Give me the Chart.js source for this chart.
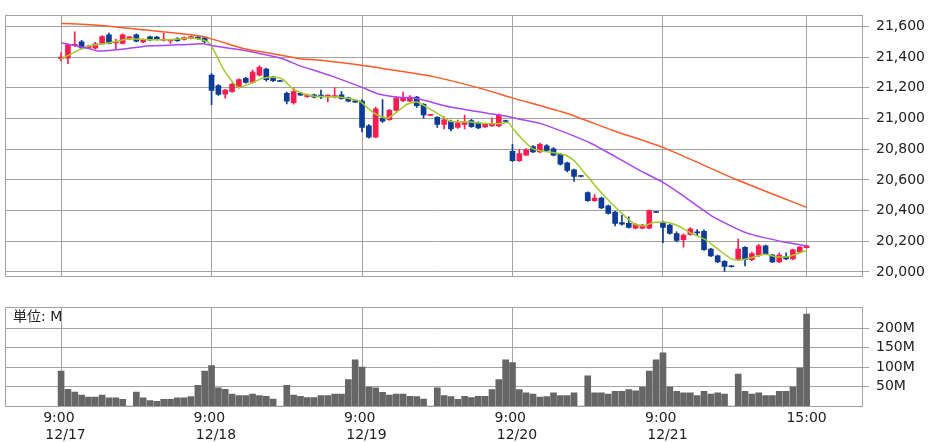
<!DOCTYPE html>
<html>
<head>
<meta charset="utf-8">
<script src="https://cdn.jsdelivr.net/npm/chart.js@4.4.0/dist/chart.umd.min.js"></script>
<style>
    body { margin: 0; background: #fff; }
    #wrap { position: relative; width: 942px; height: 442px; }
    #canvasPrice { position: absolute; left: 0; top: 0; }
    #canvasVolume { position: absolute; left: 0; top: 292px; }
    #unit { position: absolute; left: 13px; top: 305px; font: 14px "DejaVu Sans", "Noto Sans CJK JP", sans-serif; color: #222; }
</style>
</head>
<body>
<div id="wrap">
    <canvas id="canvasPrice" width="942" height="292"></canvas>
    <canvas id="canvasVolume" width="942" height="150"></canvas>
    <div id="unit">単位: M</div>
</div>
<script>
// 15 minute bars, 22 slots per day (slot 10 = lunch break, slot 21 = 15:00 close)
var openP = [
    21390,21394,21474,21500,21462,21458,21490,21546,21492,21490,21518,21546,21500,21532,21530,21510,21505,21520,21516,21524,21530,21526,
    21283,21215,21159,21175,21203,21262,21236,21283,21322,21270,21247,21165,21103,21165,21142,21155,21152,21140,21140,21155,21135,21115,
    21113,20952,20878,21003,20993,21053,21117,21113,21139,21093,21020,21008,20962,20982,20942,20962,20987,20972,20946,20952,20952,20987,
    20786,20726,20762,20818,20782,20822,20802,20766,20712,20666,20628,20517,20465,20481,20431,20391,20322,20317,20285,20285,20285,20394,
    20321,20305,20251,20210,20245,20262,20265,20150,20105,20070,20040,20080,20160,20080,20110,20170,20110,20065,20100,20085,20130,20158
];
var highP = [
    21430,21486,21565,21510,21478,21496,21540,21556,21516,21552,21536,21552,21520,21538,21536,21556,21518,21528,21532,21538,21534,21530,
    21293,21222,21190,21230,21258,21268,21315,21345,21328,21275,21249,21172,21200,21170,21160,21160,21185,21155,21200,21175,21140,21117,
    21123,20960,21075,21123,21060,21140,21173,21150,21145,21098,21028,21013,21013,20990,20990,21023,20995,20978,20970,21003,21030,20990,
    20832,20800,20804,20824,20840,20830,20810,20772,20716,20670,20630,20522,20505,20486,20436,20395,20371,20360,20316,20310,20405,20396,
    20331,20310,20262,20248,20290,20276,20275,20155,20110,20074,20042,20215,20165,20130,20180,20175,20115,20125,20125,20150,20166,20174
];
var lowP = [
    21375,21358,21468,21455,21456,21452,21484,21486,21452,21486,21514,21500,21495,21508,21510,21504,21490,21502,21510,21518,21516,21495,
    21090,21150,21133,21170,21198,21230,21230,21278,21243,21240,21241,21095,21093,21150,21138,21135,21130,21110,21135,21126,21108,21105,
    20912,20872,20875,20975,20988,21048,21110,21108,21073,21003,21018,20942,20932,20920,20935,20932,20942,20934,20942,20948,20945,20979,
    20720,20720,20758,20778,20778,20788,20756,20696,20652,20590,20620,20460,20460,20412,20376,20301,20305,20286,20281,20281,20281,20386,
    20191,20246,20196,20162,20240,20236,20140,20100,20060,20004,20032,20075,20040,20074,20100,20115,20060,20060,20080,20080,20126,20155
];
var closeP = [
    21400,21480,21484,21460,21472,21486,21534,21490,21502,21546,21532,21504,21514,21512,21514,21518,21515,21508,21528,21534,21520,21502,
    21183,21157,21185,21223,21253,21236,21303,21333,21253,21246,21241,21113,21175,21153,21154,21139,21140,21152,21150,21130,21113,21107,
    20942,20878,21063,20983,21053,21133,21133,21139,21083,21023,21027,20962,20992,20932,20972,20974,20947,20938,20966,20968,21023,20981,
    20726,20772,20798,20782,20832,20792,20762,20702,20662,20622,20622,20465,20481,20417,20381,20317,20311,20291,20311,20305,20401,20388,
    20291,20251,20205,20241,20281,20254,20145,20105,20065,20036,20034,20150,20080,20120,20170,20120,20065,20110,20085,20145,20162,20170
];
// volume in millions
var volume = [
    90,43,36,28,23,23,28,21,21,17,0,36,21,14,12,17,17,21,21,24,53,90,
    104,47,43,31,27,27,31,27,25,18,0,53,28,25,22,22,27,27,31,31,68,119,
    100,49,47,35,28,31,31,25,24,18,0,47,27,24,17,25,22,25,25,42,68,119,
    112,42,34,31,23,24,34,27,27,34,0,78,34,34,31,38,38,42,39,49,90,119,
    137,49,38,34,34,27,38,31,34,31,0,82,38,31,34,27,27,38,38,49,98,237
];

// moving averages (slot position, value)
var maShortSlot = [0,2,4.2,6.4,8.2,10,13,16,18.9,21,21.8,22.8,23.7,25,25.9,27.6,29.5,31.6,32.5,33.9,35.4,36.8,40.8,43.7,44.7,46.2,47.7,49.1,50.6,52,53.5,55.4,56.9,59.4,62.3,64.2,65.4,66.1,67.5,69,70.5,71.9,73.7,75.1,76.6,78.5,80.6,82.5,83.9,85.4,86.4,88.3,90.2,92.2,94.2,96,98.1,99.6,101.5,102.9,104.4,106.3,107.7,109];
var maShort = [21388,21433,21474,21488,21504,21520,21514,21514,21524,21508,21484,21404,21324,21243,21203,21227,21263,21267,21253,21193,21163,21147,21139,21113,21073,21024,21003,21042,21093,21107,21073,21024,20982,20979,20967,20967,20973,20932,20862,20802,20786,20778,20762,20722,20642,20541,20441,20361,20311,20301,20321,20325,20301,20251,20211,20150,20084,20080,20100,20116,20100,20100,20120,20140];
var maMidSlot = [0,4.2,5.3,8.2,13,17.4,20.8,22.2,26.2,30.1,32.5,34.9,36.4,39.8,44,46.4,49,52,56.9,62.3,65.2,67.1,70.5,77.3,84.6,88,90.5,95.3,100.3,105.1,109];
var maMid = [21494,21454,21440,21448,21474,21480,21488,21474,21448,21414,21388,21343,21323,21273,21203,21160,21140,21130,21075,21035,21015,20995,20962,20842,20662,20584,20511,20361,20253,20201,20170];
var maLongSlot = [0,3,7,12,17,20.5,23,26.6,31,34.9,38,44.7,49,54.4,60.8,66.1,74,80.7,88,98.8,109];
var maLong = [21620,21614,21602,21578,21556,21536,21506,21456,21422,21390,21380,21343,21313,21273,21203,21133,21033,20922,20812,20601,20421];

var tickSlots = [0, 22, 44, 66, 88, 109];
var tickTimes = ["9:00", "9:00", "9:00", "9:00", "9:00", "15:00"];
var tickDates = ["12/17", "12/18", "12/19", "12/20", "12/21", ""];
var priceTicks = [20000, 20200, 20400, 20600, 20800, 21000, 21200, 21400, 21600];
var volumeTicks = [50, 100, 150, 200];

var GRID = "#a3a3a3";
var UP = "#fa1e50";
var DOWN = "#0d3b96";
var X_MIN = -8.2, X_MAX = 117.1;

Chart.defaults.font.family = "'DejaVu Sans', sans-serif";
Chart.defaults.font.size = 14;
Chart.defaults.color = "#222";

// outline of the plot area
var boxPlugin = {
    id: "box",
    afterDraw: function (chart)
    {
        var a = chart.chartArea, ctx = chart.ctx;
        ctx.save();
        ctx.strokeStyle = GRID;
        ctx.lineWidth = 1;
        ctx.strokeRect(Math.round(a.left) + 0.5, Math.round(a.top) + 0.5,
                Math.round(a.right - a.left), Math.round(a.bottom - a.top));
        ctx.restore();
    }
};

function setTicks(values)
{
    return function (scale)
    {
        scale.ticks = values.map(function (v) { return { value: v }; });
    };
}

function points(xs, ys)
{
    var out = [];
    for (var i = 0; i < xs.length; ++i)
        out.push({ x: xs[i], y: ys[i] });
    return out;
}

function lineSet(xs, ys, color)
{
    return {
        type: "line",
        data: points(xs, ys),
        borderColor: color,
        borderWidth: 1.5,
        pointRadius: 0,
        tension: 0.2,
        order: 0
    };
}

function main()
{
    var bodies = [], wicks = [], colors = [], vols = [];
    for (var i = 0; i < openP.length; ++i)
    {
        bodies.push({ x: i, y: [openP[i], closeP[i]] });
        wicks.push({ x: i, y: [lowP[i], highP[i]] });
        colors.push(closeP[i] >= openP[i] ? UP : DOWN);
        vols.push({ x: i, y: volume[i] });
    }

    new Chart(document.getElementById("canvasPrice").getContext("2d"), {
        type: "bar",
        data: {
            datasets: [
                { data: wicks, backgroundColor: colors, barThickness: 1, grouped: false, order: 2 },
                { data: bodies, backgroundColor: colors, barThickness: 5, grouped: false, order: 1 },
                lineSet(maLongSlot, maLong, "#ff5a2a"),
                lineSet(maMidSlot, maMid, "#aa46f5"),
                lineSet(maShortSlot, maShort, "#a2cc26")
            ]
        },
        options: {
            responsive: false,
            animation: false,
            events: [],
            layout: { padding: { left: 5, top: 2, right: 0, bottom: 7 } },
            plugins: { legend: { display: false }, tooltip: { enabled: false } },
            scales: {
                x: {
                    type: "linear", min: X_MIN, max: X_MAX, offset: false,
                    afterBuildTicks: setTicks(tickSlots),
                    afterFit: function (s) { s.height = 0; },
                    ticks: { display: false },
                    grid: { color: GRID, drawTicks: false, offset: false },
                    border: { display: false }
                },
                y: {
                    position: "right", min: 19970, max: 21672,
                    afterBuildTicks: setTicks(priceTicks),
                    afterFit: function (s) { s.width = 80; },
                    ticks: {
                        padding: 7,
                        callback: function (v) { return v.toLocaleString("en-US"); }
                    },
                    grid: { color: GRID, tickLength: 7 },
                    border: { color: GRID }
                }
            }
        },
        plugins: [boxPlugin]
    });

    new Chart(document.getElementById("canvasVolume").getContext("2d"), {
        type: "bar",
        data: {
            datasets: [{ data: vols, backgroundColor: "#666666", barThickness: 6, grouped: false }]
        },
        options: {
            responsive: false,
            animation: false,
            events: [],
            layout: { padding: { left: 5, top: 11, right: 0, bottom: 0 } },
            plugins: { legend: { display: false }, tooltip: { enabled: false } },
            scales: {
                x: {
                    type: "linear", min: X_MIN, max: X_MAX, offset: false,
                    afterBuildTicks: setTicks(tickSlots),
                    afterFit: function (s) { s.height = 36; },
                    ticks: {
                        padding: 4, maxRotation: 0, autoSkip: false,
                        callback: function (v)
                        {
                            var k = tickSlots.indexOf(v);
                            if (k < 0) return "";
                            if (!tickDates[k]) return tickTimes[k];
                            return [tickTimes[k] + " ", "  " + tickDates[k]];
                        }
                    },
                    grid: { color: GRID, drawTicks: false, offset: false },
                    border: { display: false }
                },
                y: {
                    position: "right", min: 0, max: 254,
                    afterBuildTicks: setTicks(volumeTicks),
                    afterFit: function (s) { s.width = 80; },
                    ticks: {
                        padding: 7,
                        callback: function (v) { return v + "M"; }
                    },
                    grid: { color: GRID, tickLength: 7 },
                    border: { color: GRID }
                }
            }
        },
        plugins: [boxPlugin]
    });
}

document.addEventListener("DOMContentLoaded", main);
</script>
</body>
</html>
